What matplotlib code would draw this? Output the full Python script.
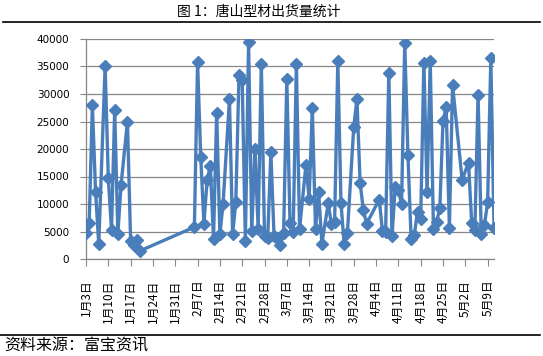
import matplotlib
matplotlib.use('Agg')
import matplotlib.pyplot as plt
import pandas as pd
from matplotlib.lines import Line2D

dates = [
    "2017-01-03", "2017-01-04", "2017-01-05", "2017-01-06", "2017-01-07", "2017-01-09",
    "2017-01-10", "2017-01-11", "2017-01-12", "2017-01-13", "2017-01-14", "2017-01-16",
    "2017-01-17", "2017-01-18", "2017-01-19", "2017-01-20",
    "2017-02-06", "2017-02-07", "2017-02-08", "2017-02-09", "2017-02-10", "2017-02-11",
    "2017-02-12", "2017-02-13", "2017-02-14", "2017-02-15", "2017-02-17", "2017-02-18",
    "2017-02-19", "2017-02-20", "2017-02-21", "2017-02-22", "2017-02-23", "2017-02-24",
    "2017-02-25", "2017-02-26", "2017-02-27", "2017-02-28", "2017-03-01", "2017-03-02",
    "2017-03-03", "2017-03-04", "2017-03-05", "2017-03-06", "2017-03-07", "2017-03-08",
    "2017-03-09", "2017-03-10", "2017-03-11", "2017-03-13", "2017-03-14", "2017-03-15",
    "2017-03-16", "2017-03-17", "2017-03-18", "2017-03-20", "2017-03-21", "2017-03-22",
    "2017-03-23", "2017-03-24", "2017-03-25", "2017-03-26", "2017-03-28", "2017-03-29",
    "2017-03-30", "2017-03-31", "2017-04-01",
    "2017-04-05", "2017-04-06", "2017-04-07", "2017-04-08", "2017-04-09", "2017-04-10",
    "2017-04-11", "2017-04-12", "2017-04-13", "2017-04-14", "2017-04-15", "2017-04-16",
    "2017-04-17", "2017-04-18", "2017-04-19", "2017-04-20", "2017-04-21", "2017-04-22",
    "2017-04-23", "2017-04-24", "2017-04-25", "2017-04-26", "2017-04-27", "2017-04-28",
    "2017-05-01", "2017-05-03", "2017-05-04", "2017-05-05", "2017-05-06", "2017-05-07",
    "2017-05-08", "2017-05-09", "2017-05-10", "2017-05-11",
]

shipments = [
    4700, 6500, 28000, 12200, 2700, 35100,
    14700, 5300, 27100, 4600, 13500, 25000,
    3300, 2500, 3500, 1500,
    5800, 35800, 18500, 6400, 14400, 16900,
    3600, 26600, 4500, 10000, 29000, 4600,
    10300, 33400, 32500, 3300, 39400, 5100,
    20000, 5500, 35500, 4200, 3800, 19400,
    4100, 3800, 2500, 4700, 32700, 6500,
    5000, 35500, 5400, 17100, 11000, 27400,
    5500, 12100, 2800, 10100, 6300, 6800,
    36000, 10100, 2700, 4700, 24000, 29100,
    13800, 9000, 6400,
    10800, 5100, 5000, 33900, 4100, 13100,
    12500, 10000, 39300, 18900, 3600, 4400,
    8600, 7200, 35700, 12100, 36000, 5500,
    6800, 9200, 25100, 27600, 5700, 31600,
    14400, 17500, 6600, 5300, 29900, 4500,
    6200, 10300, 36500, 5700,
]

tick_dates = [
    "2017-01-03", "2017-01-10", "2017-01-17", "2017-01-24", "2017-01-31",
    "2017-02-07", "2017-02-14", "2017-02-21", "2017-02-28", "2017-03-07",
    "2017-03-14", "2017-03-21", "2017-03-28", "2017-04-04", "2017-04-11",
    "2017-04-18", "2017-04-25", "2017-05-02", "2017-05-09",
]
tick_labels = [
    "1月3日", "1月10日", "1月17日", "1月24日", "1月31日",
    "2月7日", "2月14日", "2月21日", "2月28日", "3月7日",
    "3月14日", "3月21日", "3月28日", "4月4日", "4月11日",
    "4月18日", "4月25日", "5月2日", "5月9日",
]
y_ticks = [0, 5000, 10000, 15000, 20000, 25000, 30000, 35000, 40000]

title = "图 1：唐山型材出货量统计"
source = "资料来源：富宝资讯"

CJK = ['Noto Sans CJK SC', 'DejaVu Sans']
W, H = 543, 356
fig = plt.figure(figsize=(W / 100, H / 100), dpi=100)
ax = fig.add_axes([86 / W, 1 - 259 / H, (494 - 86) / W, (259 - 39) / H])

color = '#4A7EBB'
ax.plot(pd.to_datetime(dates), shipments, color=color, lw=2.4, marker='D', ms=6.5,
        mfc=color, mec=color, solid_joinstyle='round', zorder=3)

ax.set_ylim(0, 40000)
ax.set_yticks(y_ticks)
ax.set_yticklabels([str(v) for v in y_ticks], fontsize=7.5, family='DejaVu Sans')
ax.set_xlim(pd.Timestamp("2017-01-03"), pd.Timestamp("2017-05-11"))
ax.set_xticks(pd.to_datetime(tick_dates))
ax.set_xticklabels(tick_labels, rotation=90, fontsize=8.5, family=CJK)

gray = '#878787'
ax.yaxis.grid(True, color=gray, lw=0.9)
ax.set_axisbelow(True)
for s in ['top', 'right']:
    ax.spines[s].set_visible(False)
for s in ['left', 'bottom']:
    ax.spines[s].set_color(gray)
    ax.spines[s].set_linewidth(0.9)
ax.tick_params(axis='x', direction='out', length=5, color=gray, pad=10)
ax.tick_params(axis='y', direction='out', length=4, color=gray, pad=8)

fig.text(259 / W, 1 - 12 / H, title, ha='center', va='center', fontsize=10, family=CJK)
fig.add_artist(Line2D([3 / W, 540 / W], [1 - 22 / H] * 2, color='black', lw=1.2))
fig.add_artist(Line2D([0 / W, 540 / W], [1 - 335 / H] * 2, color='black', lw=1.2))
fig.text(4 / W, 1 - 346 / H, source, ha='left', va='center', fontsize=11.5, family=CJK)

fig.savefig('out.png', dpi=100)
